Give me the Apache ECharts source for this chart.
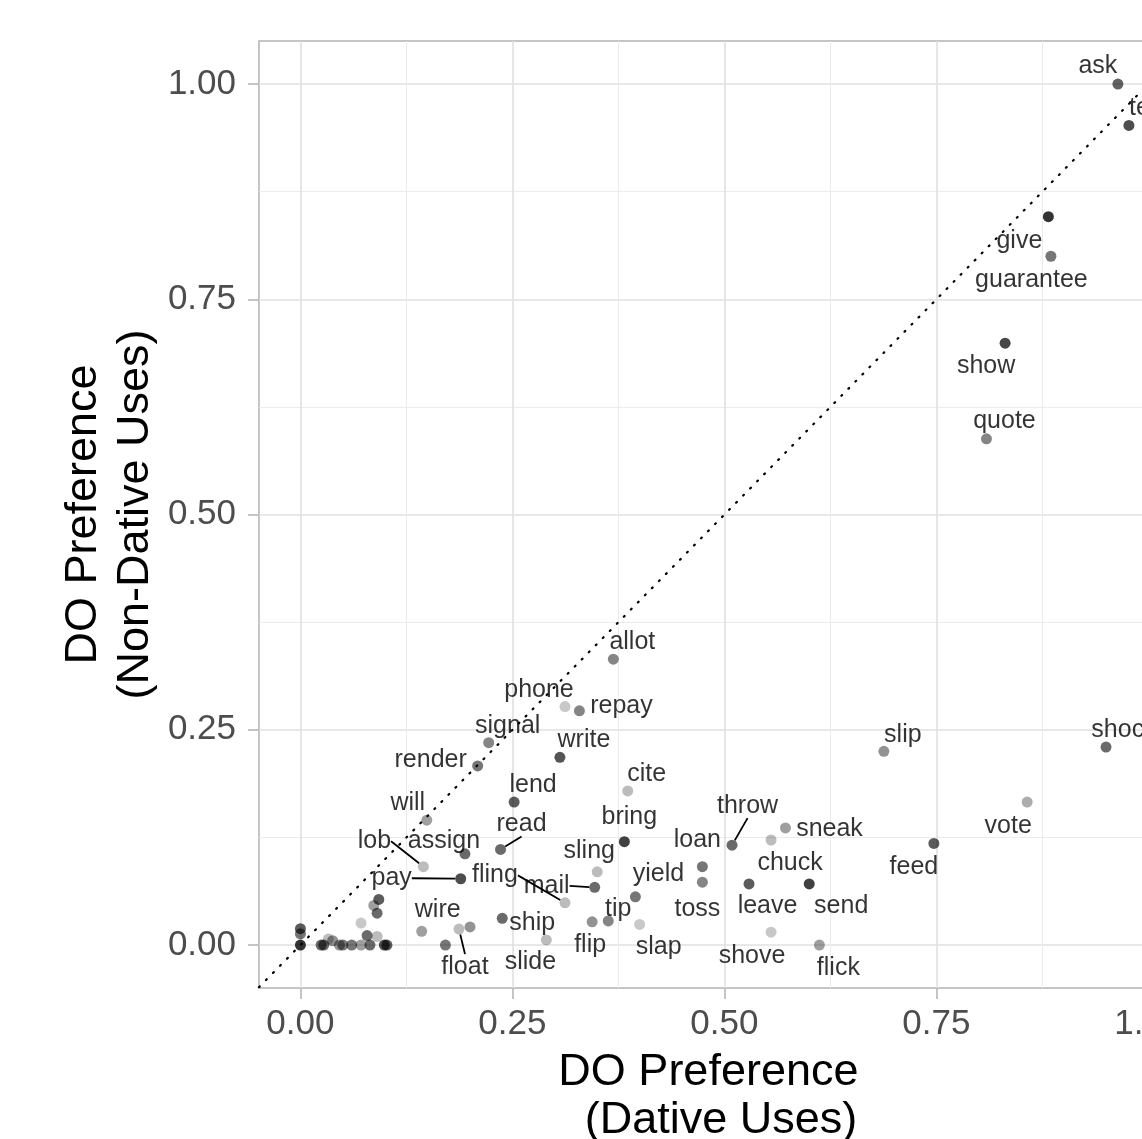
<!DOCTYPE html>
<html><head><meta charset="utf-8">
<script src="https://cdn.jsdelivr.net/npm/echarts@6/dist/echarts.min.js"></script>
<style>html,body{margin:0;padding:0;background:#fff}#c{width:1142px;height:1139px}</style>
</head><body><div id="c"></div>
<script>
// ---- data ----
const words = ['ask','tell','give','guarantee','show','quote','allot','phone','repay','signal','render','write','lend','cite','will','bring','read','assign','lob','pay','sling','mail','fling','yield','tip','flip','slap','ship','slide','wire','float','throw','loan','toss','sneak','chuck','leave','send','shove','flick','slip','feed','vote','shock',
  '','','','','','','','','','','','','','','','','','','','','',''];
const dativePref = [0.964,0.977,0.882,0.885,0.831,0.809,0.369,0.312,0.329,0.222,0.209,0.306,0.252,0.386,0.149,0.382,0.236,0.194,0.145,0.189,0.350,0.347,0.312,0.395,0.363,0.344,0.400,0.238,0.290,0.143,0.187,0.509,0.474,0.474,0.572,0.555,0.529,0.600,0.555,0.612,0.688,0.747,0.857,0.950,
  0,0,0,0.0244,0.0275,0.033,0.038,0.046,0.050,0.0605,0.0715,0.082,0.099,0.102,0.0715,0.0786,0.0904,0.0865,0.0924,0.0904,0.171,0.200];
const nonDativePref = [1.000,0.952,0.846,0.800,0.699,0.588,0.332,0.277,0.272,0.235,0.208,0.218,0.166,0.179,0.145,0.120,0.111,0.106,0.091,0.077,0.085,0.067,0.049,0.056,0.028,0.027,0.024,0.031,0.006,0.016,0.0185,0.116,0.091,0.073,0.136,0.122,0.071,0.071,0.015,0.000,0.225,0.118,0.166,0.230,
  0,0.013,0.019,0,0,0.007,0.005,0,0,0,0,0,0,0,0.0255,0.011,0.010,0.046,0.053,0.037,0,0.021];
// relative weight (drawn as point opacity)
const weight = [0.77,0.87,1.0,0.67,0.9,0.6,0.6,0.27,0.6,0.6,0.67,0.84,0.8,0.33,0.47,0.93,0.73,0.73,0.33,0.87,0.33,0.73,0.33,0.67,0.6,0.53,0.27,0.73,0.33,0.47,0.33,0.73,0.67,0.6,0.47,0.33,0.8,0.93,0.27,0.47,0.53,0.8,0.4,0.73,
  1.0,0.67,0.8,0.73,0.73,0.33,0.53,0.53,0.67,0.67,0.47,0.73,0.87,0.8,0.27,0.73,0.33,0.47,0.8,0.73,0.67,0.53];
const majorTicks = [0, 0.25, 0.5, 0.75, 1];
const minorTicks = [0.125, 0.375, 0.625, 0.875];
const xTitle = 'DO Preference \n (Dative Uses)';
const yTitle = 'DO Preference\n(Non-Dative Uses)';

// ---- label placement (repel-style pixel offsets) ----
const labelOffset = {
  allot:[19,-19], phone:[-26,-18], repay:[42,-6], signal:[19,-18], render:[-47,-7], write:[24,-19],
  lend:[19,-19], cite:[19,-18], will:[-19,-19], bring:[5,-26], read:[21,-27], assign:[-21,-14],
  lob:[-49,-27], pay:[-69,-2], fling:[-70,-29], mail:[-48,-3], sling:[-8,-22], yield:[23,-24],
  tip:[10,-13], flip:[-2,22], slap:[19,21], ship:[30,3], slide:[-16,21], wire:[16,-23], float:[6,36],
  throw:[15.5,-41], loan:[-5,-28], toss:[-5,25], sneak:[44,0], chuck:[19,22], leave:[18.5,21],
  send:[32,21], shove:[-19,22], flick:[19,22], slip:[19,-18], feed:[-20,22], vote:[-19,22],
  shock:[18,-18], ask:[-20,-19], tell:[16,-19], give:[-29,23], guarantee:[-19.5,22], show:[-19,21], quote:[18,-19]
};
const segmentWords = ['lob','pay','read','fling','mail','throw','float'];

// ggplot-like 5% expansion
const xLo = Math.min(...dativePref), xHi = Math.max(...dativePref);
const yLo = Math.min(...nonDativePref), yHi = Math.max(...nonDativePref);
const XMIN = xLo - 0.05*(xHi-xLo), XMAX = xHi + 0.05*(xHi-xLo);
const YMIN = yLo - 0.05*(yHi-yLo), YMAX = yHi + 0.05*(yHi-yLo);
const PXX = 848, PXY = 861;

const FONT = "'Liberation Sans', Arial, Helvetica, sans-serif";
const chart = echarts.init(document.getElementById('c'), null, {renderer:'canvas'});

const scatterData = words.map((w,i)=>{
  const it = {name:w, value:[dativePref[i], nonDativePref[i]], itemStyle:{color:'rgba(0,0,0,'+weight[i]+')'}};
  if (segmentWords.indexOf(w) >= 0) it.labelLine = {show:true};
  return it;
});
const dLo = Math.max(XMIN, YMIN), dHi = Math.min(XMAX, YMAX);

const hiddenAxis = (min,max,vals)=>({
  type:'value', min:min, max:max, show:true,
  axisLine:{show:false, onZero:false}, axisTick:{show:false, customValues:vals},
  axisLabel:{show:false, customValues:vals},
  splitLine:{show:true, lineStyle:{color:'#ebebeb', width:1}}
});

chart.setOption({
  animation:false,
  backgroundColor:'#fff',
  grid:{left:259, top:41, width:(XMAX-XMIN)*PXX, height:(YMAX-YMIN)*PXY, show:true,
        containLabel:false, outerBoundsMode:'none',
        borderColor:'#b3b3b3', borderWidth:1.5, backgroundColor:'transparent'},
  xAxis:[{
    type:'value', min:XMIN, max:XMAX, position:'bottom',
    axisLine:{show:false, onZero:false},
    axisTick:{show:true, length:11, customValues:majorTicks, lineStyle:{color:'#b3b3b3', width:1.5}},
    axisLabel:{customValues:majorTicks, formatter:v=>v.toFixed(2), color:'#4d4d4d', fontSize:35, fontFamily:FONT, margin:19},
    splitLine:{show:true, lineStyle:{color:'#e0e0e0', width:1.6}},
    name:xTitle, nameLocation:'middle', nameGap:60,
    nameTextStyle:{fontSize:45, fontFamily:FONT, color:'#000', lineHeight:48}
  }, hiddenAxis(XMIN,XMAX,minorTicks)],
  yAxis:[{
    type:'value', min:YMIN, max:YMAX, position:'left',
    axisLine:{show:false, onZero:false},
    axisTick:{show:true, length:11, customValues:majorTicks, lineStyle:{color:'#b3b3b3', width:1.5}},
    axisLabel:{customValues:majorTicks, formatter:v=>v.toFixed(2), color:'#4d4d4d', fontSize:35, fontFamily:FONT, margin:23},
    splitLine:{show:true, lineStyle:{color:'#e0e0e0', width:1.6}},
    name:yTitle, nameLocation:'middle', nameRotate:90, nameGap:97, nameMoveOverlap:false,
    nameTextStyle:{fontSize:45, fontFamily:FONT, color:'#000', lineHeight:52}
  }, hiddenAxis(YMIN,YMAX,minorTicks)],
  series:[{
    type:'line', xAxisIndex:0, yAxisIndex:0, data:[[dLo,dLo],[dHi,dHi]], symbol:'none', silent:true, z:3,
    lineStyle:{color:'#000', width:2.2, type:[1,9], cap:'round'}
  },{
    type:'scatter', xAxisIndex:0, yAxisIndex:0, symbolSize:11, z:4, silent:true,
    data:scatterData,
    label:{show:true, position:'inside', formatter:p=>p.name, color:'#000', fontSize:25, fontFamily:FONT},
    labelLine:{show:false, lineStyle:{color:'#000', width:1.8}},
    labelLayout:p=>{const o = labelOffset[words[p.dataIndex]]; return o ? {dx:o[0], dy:o[1]+1.5} : {};},
    emphasis:{disabled:true}
  }]
});
</script></body></html>
